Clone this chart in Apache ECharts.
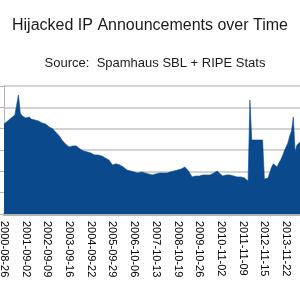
<!DOCTYPE html>
<html>
<head>
<meta charset="utf-8">
<script src="https://cdn.jsdelivr.net/npm/echarts@6/dist/echarts.min.js"></script>
<style>
  html, body { margin: 0; padding: 0; background: #fff; }
  #chart { width: 300px; height: 300px; }
</style>
</head>
<body>
<div id="chart"></div>
<script>
// one label every 12 points
const tickLabels = [
  "2000-08-26", "2001-09-02", "2002-09-09", "2003-09-16", "2004-09-22",
  "2005-09-29", "2006-10-06", "2007-10-13", "2008-10-19", "2009-10-26",
  "2010-11-02", "2011-11-09", "2012-11-15", "2013-11-22"
];

// hijacked announcements (approx.)
const announcements = [
  422, 427, 436, 441, 450, 455, 464, 469, 558, 474,
  460, 455, 450, 445, 455, 445, 441, 441, 436, 436,
  431, 427, 422, 422, 417, 408, 408, 399, 389, 385,
  371, 361, 347, 338, 328, 324, 314, 314, 319, 324,
  319, 314, 305, 300, 295, 295, 291, 286, 286, 281,
  277, 281, 277, 272, 272, 267, 263, 258, 253, 249,
  230, 235, 235, 230, 230, 225, 220, 211, 206, 206,
  202, 202, 197, 197, 192, 192, 197, 192, 192, 192,
  188, 183, 183, 188, 188, 188, 192, 188, 192, 192,
  192, 192, 197, 197, 202, 202, 206, 206, 211, 216,
  220, 211, 202, 188, 174, 174, 178, 174, 178, 183,
  183, 178, 183, 188, 183, 188, 192, 197, 202, 192,
  188, 178, 183, 183, 178, 183, 178, 178, 178, 174,
  174, 174, 174, 169, 169, 155, 534, 347, 342, 347,
  342, 347, 342, 347, 164, 164, 169, 178, 220, 235,
  239, 220, 239, 253, 272, 295, 314, 333, 366, 389,
  455, 291, 324, 333, 338, 347, 345, 350, 352, 355
];

const categories = announcements.map((v, i) => String(i));

const chart = echarts.init(document.getElementById("chart"), null, { renderer: "canvas" });

chart.setOption({
  backgroundColor: "#ffffff",
  animation: false,
  title: [
    {
      text: "Hijacked IP Announcements over Time",
      left: "center",
      top: 13,
      textStyle: { fontFamily: "Liberation Sans", fontSize: 16, fontWeight: "normal", color: "#1a1a1a" }
    },
    {
      text: "Source:  Spamhaus SBL + RIPE Stats",
      left: 150,
      textAlign: "center",
      top: 52,
      textStyle: { fontFamily: "Liberation Sans", fontSize: 13, fontWeight: "normal", color: "#1a1a1a" }
    }
  ],
  grid: {
    left: 4, top: 86, width: 305.6, height: 128,
    containLabel: false,
    outerBoundsMode: "none"
  },
  xAxis: {
    type: "category",
    data: categories,
    boundaryGap: false,
    axisLine: { show: true, lineStyle: { color: "#b4b4b4", width: 3 } },
    axisTick: { show: false },
    axisLabel: {
      interval: 11,
      rotate: -90,
      margin: 7,
      fontFamily: "Liberation Sans",
      fontSize: 11,
      color: "#000",
      formatter: (v, idx) => tickLabels[idx / 12] || ""
    },
    splitLine: { show: false }
  },
  yAxis: {
    type: "value",
    min: 0,
    max: 600,
    interval: 100,
    axisLine: { show: true, lineStyle: { color: "#b4b4b4", width: 1 } },
    axisTick: { show: true, length: 4, lineStyle: { color: "#b4b4b4" } },
    axisLabel: { show: false },
    splitLine: { lineStyle: { color: "#c4c4c4", width: 1.5 } }
  },
  series: [
    {
      type: "line",
      data: announcements,
      symbol: "none",
      z: 3,
      lineStyle: { color: "#0a4a8c", width: 0.6 },
      areaStyle: { color: "#0a4a8c", opacity: 1 }
    }
  ]
});
</script>
</body>
</html>
